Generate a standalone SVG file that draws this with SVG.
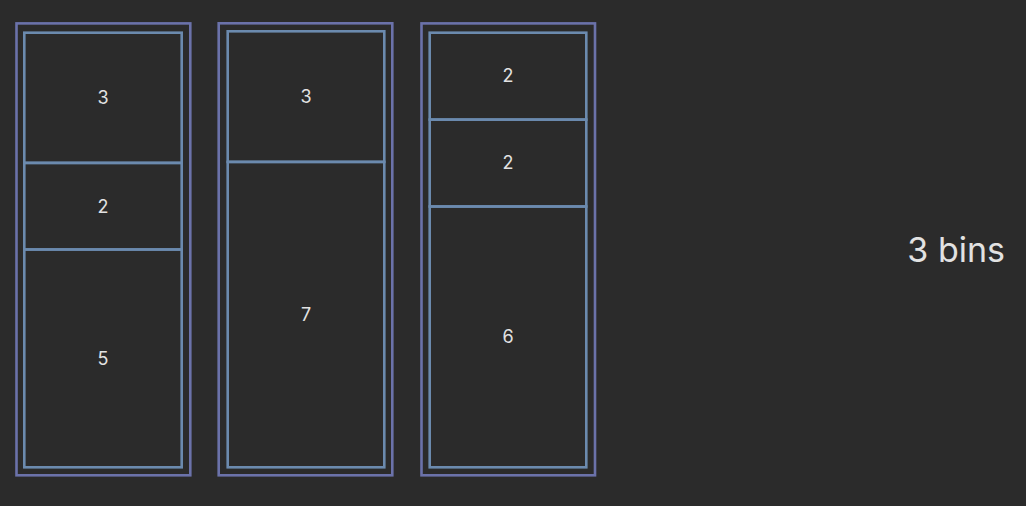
<svg xmlns="http://www.w3.org/2000/svg" width="1026" height="506" viewBox="0 0 1026 506">
<style>
.bin{fill:none;stroke:#6b72aa;stroke-width:2.6}
.item{fill:none;stroke:#6b8aae;stroke-width:2.6}
.lbl{font-family:Inter,"Liberation Sans",sans-serif;font-size:18px;fill:#e2e2e2;text-anchor:middle;dominant-baseline:central}
.title{font-family:Inter,"Liberation Sans",sans-serif;font-size:34px;fill:#e2e2e2;text-anchor:end}
</style>
<rect width="1026" height="506" fill="#2b2b2b"/>
<g id="bin1">
<rect class="bin" x="16.5" y="23.4" width="173.8" height="451.9"/>
<g id="bin1-item1"><rect class="item" x="24.3" y="32.7" width="157.4" height="130.2"/><text class="lbl" x="103" y="97.5">3</text></g>
<g id="bin1-item2"><rect class="item" x="24.3" y="162.9" width="157.4" height="86.6"/><text class="lbl" x="103" y="206">2</text></g>
<g id="bin1-item3"><rect class="item" x="24.3" y="249.5" width="157.4" height="217.8"/><text class="lbl" x="103" y="358">5</text></g>
</g>
<g id="bin2">
<rect class="bin" x="218.7" y="23.3" width="173.6" height="452"/>
<g id="bin2-item1"><rect class="item" x="227.7" y="31.3" width="156.6" height="130.6"/><text class="lbl" x="306" y="96.5">3</text></g>
<g id="bin2-item2"><rect class="item" x="227.7" y="161.9" width="156.6" height="305.4"/><text class="lbl" x="306" y="314.5">7</text></g>
</g>
<g id="bin3">
<rect class="bin" x="421.5" y="23.4" width="173.5" height="451.9"/>
<g id="bin3-item1"><rect class="item" x="429.7" y="32.7" width="156.6" height="86.9"/><text class="lbl" x="508" y="75.5">2</text></g>
<g id="bin3-item2"><rect class="item" x="429.7" y="119.6" width="156.6" height="86.9"/><text class="lbl" x="508" y="162.5">2</text></g>
<g id="bin3-item3"><rect class="item" x="429.7" y="206.5" width="156.6" height="260.8"/><text class="lbl" x="508" y="336.5">6</text></g>
</g>
<g id="connectors"></g>
<text class="title" x="1005" y="262">3 bins</text>
</svg>
